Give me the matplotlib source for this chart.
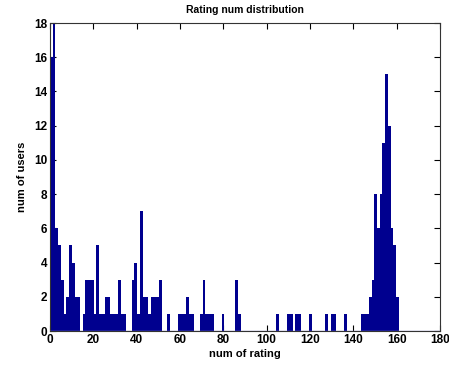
import numpy as np
import matplotlib
matplotlib.use("Agg")
import matplotlib.pyplot as plt

# Histogram of how many ratings each user gave (128 equal bins over 0..161)
rating_min, rating_max = 0, 161
num_users = [
    16, 18, 6, 5, 3, 1, 2, 5, 4, 2, 2, 0, 1, 3, 3, 3,
    1, 5, 1, 1, 2, 2, 1, 1, 1, 3, 1, 1, 0, 0, 3, 4,
    1, 7, 2, 2, 1, 2, 2, 2, 3, 0, 0, 1, 0, 0, 0, 1,
    1, 1, 2, 1, 1, 0, 0, 1, 3, 1, 1, 1, 0, 0, 0, 1,
    0, 0, 0, 0, 3, 1, 0, 0, 0, 0, 0, 0, 0, 0, 0, 0,
    0, 0, 0, 1, 0, 0, 0, 1, 1, 0, 1, 1, 0, 0, 0, 1,
    0, 0, 0, 0, 0, 1, 0, 1, 1, 0, 0, 0, 1, 0, 0, 0,
    0, 0, 1, 1, 1, 2, 3, 8, 6, 8, 11, 15, 12, 6, 5, 2,
]
x_ticks = list(range(0, 181, 20))
y_ticks = list(range(0, 19, 2))

plt.rcParams['font.family'] = ['Liberation Sans', 'DejaVu Sans']

fig = plt.figure(figsize=(4.49, 3.66), dpi=100)
ax = fig.add_axes([50 / 449, 35 / 366, 390 / 449, 308 / 366])

edges = np.linspace(rating_min, rating_max, len(num_users) + 1)
ax.bar(edges[:-1], num_users, width=np.diff(edges), align='edge',
       color='#00008f', linewidth=0, antialiased=False, zorder=2)
ax.axhline(0, color='#8c8cc8', linewidth=1.0, zorder=3)

ax.set_xlim(0, 180)
ax.set_ylim(0, 18)
ax.set_xticks(x_ticks)
ax.set_yticks(y_ticks)
ax.tick_params(direction='in', length=4, width=0.8, top=True, right=True,
               labelsize=8.5, pad=2, colors='black')
for lab in ax.get_xticklabels() + ax.get_yticklabels():
    lab.set_fontweight('bold')
for sp in ax.spines.values():
    sp.set_color('#333333')
    sp.set_linewidth(0.8)

ax.set_title('Rating num distribution', fontsize=7.5, fontweight='bold', pad=7)
ax.set_xlabel('num of rating', fontsize=8, fontweight='bold', labelpad=2)
ax.set_ylabel('num of users', fontsize=8, fontweight='bold', labelpad=5)

fig.savefig('out.png', dpi=100)
